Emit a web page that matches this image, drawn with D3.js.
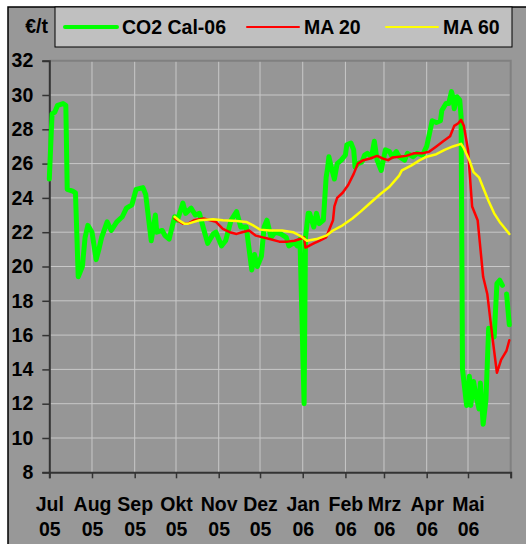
<!DOCTYPE html>
<html><head><meta charset="utf-8">
<script src="https://cdn.jsdelivr.net/npm/d3@7/dist/d3.min.js"></script>
<style>body{margin:0;background:#fff;overflow:hidden}text{font-family:"Liberation Sans",Arial,sans-serif;font-weight:bold;fill:#000}</style>
</head><body><svg id="c" width="526" height="544"></svg>
<script>
// ---- data ----
const priceDates = ["2005-07-01","2005-07-03","2005-07-05","2005-07-07","2005-07-11","2005-07-13","2005-07-14","2005-07-18","2005-07-20","2005-07-22","2005-07-25","2005-07-27","2005-07-29","2005-08-01","2005-08-04","2005-08-06","2005-08-08","2005-08-12","2005-08-15","2005-08-19","2005-08-23","2005-08-26","2005-08-30","2005-09-02","2005-09-07","2005-09-09","2005-09-13","2005-09-16","2005-09-17","2005-09-21","2005-09-23","2005-09-26","2005-09-30","2005-10-02","2005-10-06","2005-10-08","2005-10-12","2005-10-15","2005-10-18","2005-10-21","2005-10-24","2005-10-28","2005-10-30","2005-11-03","2005-11-06","2005-11-10","2005-11-14","2005-11-17","2005-11-21","2005-11-25","2005-11-27","2005-11-29","2005-12-02","2005-12-04","2005-12-06","2005-12-09","2005-12-12","2005-12-16","2005-12-20","2005-12-22","2005-12-26","2005-12-28","2005-12-30","2006-01-02","2006-01-03","2006-01-05","2006-01-06","2006-01-09","2006-01-11","2006-01-13","2006-01-16","2006-01-18","2006-01-19","2006-01-20","2006-01-22","2006-01-24","2006-01-26","2006-01-29","2006-02-01","2006-02-02","2006-02-05","2006-02-07","2006-02-08","2006-02-10","2006-02-13","2006-02-15","2006-02-17","2006-02-20","2006-02-22","2006-02-24","2006-02-27","2006-03-02","2006-03-05","2006-03-07","2006-03-10","2006-03-12","2006-03-16","2006-03-18","2006-03-22","2006-03-25","2006-03-29","2006-04-01","2006-04-05","2006-04-08","2006-04-11","2006-04-12","2006-04-15","2006-04-17","2006-04-19","2006-04-20","2006-04-21","2006-04-23","2006-04-25","2006-04-26","2006-04-27","2006-04-30","2006-05-02","2006-05-03","2006-05-05","2006-05-07","2006-05-09","2006-05-10","2006-05-12","2006-05-14","2006-05-16","2006-05-20","2006-05-22","2006-05-24","2006-05-26","2006-05-27","2006-05-29","2006-05-31"];
const priceValues = [25.1,28.9,29.0,29.4,29.5,29.4,24.5,24.4,24.3,19.4,20.0,21.7,22.4,22.0,20.4,21.0,21.7,22.6,22.1,22.6,22.9,23.4,23.6,24.5,24.6,24.2,21.5,23.0,22.0,22.1,21.8,21.6,22.9,22.7,23.7,23.1,23.4,23.0,23.1,22.2,21.35,21.9,22.0,21.2,21.5,22.7,23.2,22.3,22.3,19.8,20.7,20.0,20.6,22.3,22.7,21.7,22.0,21.9,21.7,21.2,21.4,21.2,21.6,12.0,21.7,23.1,23.1,22.3,23.1,22.5,22.7,25.2,25.7,26.4,25.7,25.1,26.0,26.2,26.5,27.1,27.2,26.8,25.8,26.0,26.1,26.5,26.6,26.4,27.3,26.2,25.6,26.8,26.7,26.4,26.7,26.4,26.2,26.6,26.4,26.6,26.5,27.0,28.5,28.4,28.5,29.1,29.5,29.5,30.2,29.9,29.2,29.9,29.7,28.7,14.0,11.9,13.6,11.9,13.3,12.4,11.7,13.2,10.8,12.2,16.4,15.9,19.0,19.2,18.9,null,18.4,16.6];
const ma20Dates = ["2005-09-30","2005-10-06","2005-10-10","2005-10-14","2005-10-21","2005-10-30","2005-11-04","2005-11-09","2005-11-14","2005-11-18","2005-11-23","2005-11-28","2005-12-03","2005-12-08","2005-12-15","2005-12-21","2005-12-26","2005-12-30","2006-01-02","2006-01-03","2006-01-09","2006-01-13","2006-01-18","2006-01-20","2006-01-23","2006-01-24","2006-01-26","2006-01-30","2006-02-03","2006-02-07","2006-02-10","2006-02-14","2006-02-19","2006-02-24","2006-02-28","2006-03-04","2006-03-07","2006-03-12","2006-03-17","2006-03-23","2006-03-29","2006-04-03","2006-04-08","2006-04-13","2006-04-18","2006-04-21","2006-04-24","2006-04-26","2006-04-28","2006-05-01","2006-05-04","2006-05-08","2006-05-12","2006-05-15","2006-05-19","2006-05-22","2006-05-25","2006-05-29","2006-05-31"];
const ma20Values = [22.8,22.5,22.5,22.7,22.8,22.6,22.2,22.0,21.9,22.0,22.1,21.8,21.7,21.6,21.45,21.45,21.5,21.6,21.7,21.1,21.35,21.5,21.7,22.1,22.7,23.5,24.0,24.3,24.75,25.4,26.0,26.2,26.3,26.45,26.3,26.2,26.35,26.4,26.45,26.6,26.6,26.7,27.0,27.3,27.6,28.2,28.35,28.55,28.2,26.8,23.5,22.7,19.4,18.4,15.7,13.8,14.55,15.1,15.7];
const ma60Dates = ["2005-09-30","2005-10-03","2005-10-07","2005-10-10","2005-10-14","2005-10-18","2005-10-28","2005-11-04","2005-11-14","2005-11-21","2005-11-26","2005-12-01","2005-12-08","2005-12-17","2005-12-25","2005-12-31","2006-01-04","2006-01-11","2006-01-18","2006-01-23","2006-01-30","2006-02-06","2006-02-12","2006-02-19","2006-02-26","2006-03-05","2006-03-12","2006-03-14","2006-03-21","2006-03-27","2006-04-01","2006-04-08","2006-04-14","2006-04-20","2006-04-26","2006-04-28","2006-05-02","2006-05-05","2006-05-09","2006-05-13","2006-05-16","2006-05-20","2006-05-24","2006-05-27","2006-05-31"];
const ma60Values = [22.9,22.7,22.5,22.5,22.6,22.7,22.75,22.7,22.65,22.6,22.4,22.15,22.1,22.1,22.0,21.75,21.5,21.6,21.8,22.1,22.4,22.8,23.2,23.7,24.2,24.65,25.3,25.6,25.9,26.2,26.4,26.55,26.8,27.0,27.15,26.9,26.2,25.5,25.2,24.4,23.8,23.1,22.6,22.3,21.9];
const monthLabels = ["Jul","Aug","Sep","Okt","Nov","Dez","Jan","Feb","Mrz","Apr","Mai"];
const yearLabels  = ["05","05","05","05","05","05","06","06","06","06","06"];
const yTicks = [8,10,12,14,16,18,20,22,24,26,28,30,32];
const seriesNames = ["CO2 Cal-06","MA 20","MA 60"];
const seriesColors = ["#00ff00","#ff0000","#ffff00"];
const unitLabel = "€/t";
const axisStart = "2005-07-01", axisEnd = "2006-06-01";

// ---- drawing ----
const parse = d3.timeParse("%Y-%m-%d");
const svg = d3.select("#c");
const L = 49.3, R = 510.7, T = 60.7, B = 472.3;
const x = d3.scaleTime().domain([parse(axisStart), parse(axisEnd)]).range([L, R]);
const y = d3.scaleLinear().domain([8, 32]).range([B, T]);
const FS = 19.5;

// chart background
svg.append("rect").attr("x", 8).attr("y", 7).attr("width", 530).attr("height", 550)
  .attr("fill", "#989898").attr("stroke", "#000").attr("stroke-width", 1.5);

// plot area
svg.append("rect").attr("x", L).attr("y", T).attr("width", R - L).attr("height", B - T).attr("fill", "#969696");

const months = d3.timeMonth.range(parse(axisStart), d3.timeDay.offset(parse(axisEnd), 1));

// gridlines
const grid = svg.append("g").attr("stroke", "#c8c8c8").attr("stroke-width", 1);
yTicks.filter(v => v > 8 && v < 32).forEach(v => {
  grid.append("line").attr("x1", L).attr("x2", R).attr("y1", y(v)).attr("y2", y(v));
});
months.slice(1, -1).forEach(m => {
  grid.append("line").attr("x1", x(m)).attr("x2", x(m)).attr("y1", T).attr("y2", B);
});
// plot border top/right
svg.append("path").attr("d", `M${L},${T}H${R}V${B}`).attr("fill", "none").attr("stroke", "#808080").attr("stroke-width", 2);

// axes
const yAxis = d3.axisLeft(y).tickValues(yTicks).tickSize(7).tickPadding(9).tickFormat(d3.format("d"));
const gy = svg.append("g").attr("transform", `translate(${L},0)`).call(yAxis);
gy.select(".domain").attr("stroke", "#333").attr("stroke-width", 2);
gy.selectAll(".tick line").attr("stroke", "#333").attr("stroke-width", 1.5);
gy.selectAll("text").attr("font-size", FS).attr("font-family", null).attr("fill", "#000");

const xAxis = d3.axisBottom(x).tickValues(months).tickSize(6).tickFormat("");
const gx = svg.append("g").attr("transform", `translate(0,${B})`).call(xAxis);
gx.select(".domain").attr("stroke", "#333").attr("stroke-width", 2);
gx.selectAll(".tick line").attr("stroke", "#333").attr("stroke-width", 1.5);
gx.selectAll(".tick").each(function(d, i) {
  if (i >= monthLabels.length) return;
  const t = d3.select(this).append("text").attr("text-anchor", "middle").attr("font-size", FS).attr("font-family", null);
  t.append("tspan").attr("x", 0).attr("y", 38.7).text(monthLabels[i]);
  t.append("tspan").attr("x", 0).attr("y", 64.2).text(yearLabels[i]);
});

// series
const mk = (dates, vals) => dates.map((d, i) => ({ date: parse(d), value: vals[i] }));
const line = d3.line().defined(d => d.value != null).x(d => x(d.date)).y(d => y(d.value));
const series = [mk(priceDates, priceValues), mk(ma20Dates, ma20Values), mk(ma60Dates, ma60Values)];
const widths = [5, 2.5, 2.5];
series.forEach((s, i) => {
  svg.append("path").datum(s).attr("d", line).attr("fill", "none")
    .attr("stroke", seriesColors[i]).attr("stroke-width", widths[i])
    .attr("stroke-linejoin", "round").attr("stroke-linecap", "round");
});

// legend
svg.append("text").attr("x", 48).attr("y", 33).attr("text-anchor", "end").attr("font-size", FS).text(unitLabel);
svg.append("rect").attr("x", 55).attr("y", 7).attr("width", 457).attr("height", 40)
  .attr("fill", "#c0c0c0").attr("stroke", "#000").attr("stroke-width", 1);
const legX = [65, 247, 386];
const legW = [4, 2, 2];
seriesNames.forEach((n, i) => {
  svg.append("line").attr("x1", legX[i]).attr("x2", legX[i] + 52).attr("y1", 27).attr("y2", 27)
    .attr("stroke", seriesColors[i]).attr("stroke-width", legW[i]).attr("stroke-linecap", "round");
  svg.append("text").attr("x", legX[i] + 57).attr("y", 33.5).attr("font-size", FS).text(n);
});
</script></body></html>
